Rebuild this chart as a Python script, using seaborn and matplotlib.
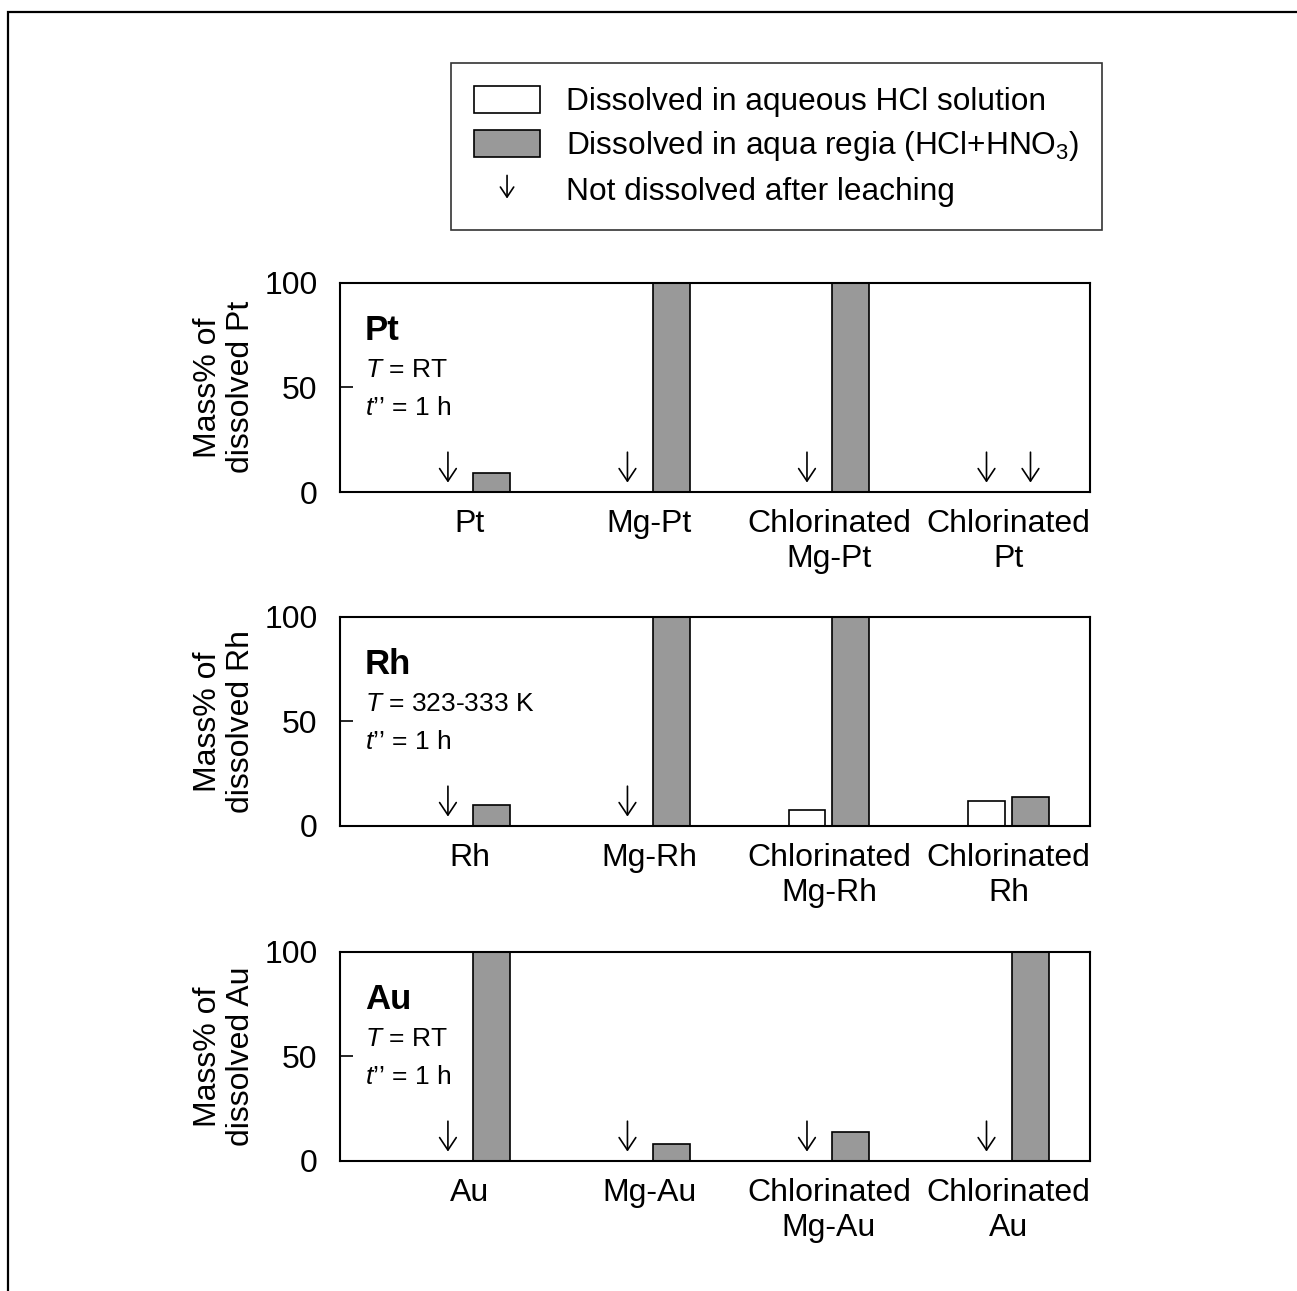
import numpy as np
import pandas as pd
import seaborn as sns
import matplotlib.pyplot as plt
from matplotlib.patches import Patch, Rectangle, FancyArrowPatch
from matplotlib.legend_handler import HandlerBase


sns.set_style('ticks', rc={'text.color': 'black', 'axes.labelcolor': 'black',
                           'xtick.color': 'black', 'ytick.color': 'black',
                           'axes.edgecolor': 'black'})
plt.rcParams['font.family'] = ['Liberation Sans', 'DejaVu Sans']
plt.rcParams['mathtext.fontset'] = 'custom'
plt.rcParams['mathtext.rm'] = 'Liberation Sans'
plt.rcParams['mathtext.it'] = 'Liberation Sans:italic'
plt.rcParams['mathtext.bf'] = 'Liberation Sans:bold'


# Data (mass% dissolved)
metals = ['Pt', 'Rh', 'Au']
conditions = ['$T$ = RT', '$T$ = 323-333 K', '$T$ = RT']
samples = {
    'Pt': ['Pt', 'Mg-Pt', 'Chlorinated\nMg-Pt', 'Chlorinated\nPt'],
    'Rh': ['Rh', 'Mg-Rh', 'Chlorinated\nMg-Rh', 'Chlorinated\nRh'],
    'Au': ['Au', 'Mg-Au', 'Chlorinated\nMg-Au', 'Chlorinated\nAu'],
}
hcl_vals = {
    'Pt': [0, 0, 0, 0],
    'Rh': [0, 0, 7.5, 12],
    'Au': [0, 0, 0, 0],
}
regia_vals = {
    'Pt': [9, 100, 100, 0],
    'Rh': [10, 100, 100, 14],
    'Au': [100, 8, 14, 100],
}
# 1 = not dissolved after leaching (arrow)
hcl_arrow = {
    'Pt': [1, 1, 1, 1],
    'Rh': [1, 1, 0, 0],
    'Au': [1, 1, 1, 1],
}
regia_arrow = {
    'Pt': [0, 0, 0, 1],
    'Rh': [0, 0, 0, 0],
    'Au': [0, 0, 0, 0],
}

hue_names = ['Dissolved in aqueous HCl solution',
             'Dissolved in aqua regia (HCl+HNO$_3$)']
colors = {hue_names[0]: 'white', hue_names[1]: '#999999'}


class ArrowHandler(HandlerBase):
    def create_artists(self, legend, orig_handle, xdescent, ydescent,
                       width, height, fontsize, trans):
        xc = width / 2 - xdescent
        a = FancyArrowPatch((xc, height * 1.0), (xc, -height * 0.05),
                            arrowstyle='->,head_length=0.45,head_width=0.3',
                            mutation_scale=16, lw=1.2, color='black',
                            transform=trans)
        return [a]


fig = plt.figure(figsize=(12.97, 12.91), dpi=100)

# outer frame
fig.patches.append(Rectangle((8 / 1297, -0.5), 2, 0.5 + 1 - 12 / 1291,
                             transform=fig.transFigure, fill=False,
                             lw=1.6, edgecolor='black', clip_on=False))

bottoms = [0.6189, 0.3602, 0.1007]
for metal, cond, bot in zip(metals, conditions, bottoms):
    ax = fig.add_axes([0.2621, bot, 0.5783, 0.1622])
    df = pd.DataFrame({
        'sample': samples[metal] * 2,
        'solvent': [hue_names[0]] * 4 + [hue_names[1]] * 4,
        'value': hcl_vals[metal] + regia_vals[metal],
    })
    sns.barplot(data=df, x='sample', y='value', hue='solvent',
                order=samples[metal], hue_order=hue_names, palette=colors,
                edgecolor='black', linewidth=1.2, width=0.49, gap=0.16,
                errorbar=None, legend=False, ax=ax)

    # arrows for not dissolved
    for i in range(4):
        for off, flags in [(-0.1225, hcl_arrow), (0.1225, regia_arrow)]:
            if flags[metal][i]:
                ax.annotate('', xy=(i + off, 4.5), xytext=(i + off, 19),
                            arrowprops=dict(arrowstyle='->,head_length=0.45,head_width=0.3',
                                            mutation_scale=20, lw=1.2,
                                            color='black', shrinkA=0, shrinkB=0))

    ax.set_xlim(-0.724, 3.454)
    ax.set_ylim(0, 100)
    ax.set_yticks([0, 50, 100])
    ax.tick_params(axis='y', direction='in', length=9, width=1.2,
                   labelsize=23, pad=16)
    ax.tick_params(axis='x', length=0, labelsize=23, pad=12)
    for lab in ax.get_xticklabels():
        lab.set_linespacing(1.25)
    ax.set_xlabel('')
    ax.set_ylabel('Mass% of\ndissolved ' + metal, fontsize=23, labelpad=6,
                  linespacing=1.15)
    for s in ax.spines.values():
        s.set_linewidth(1.5)
        s.set_color('black')

    ax.text(0.033, 0.77, metal, transform=ax.transAxes, fontsize=25,
            fontweight='bold', va='center', ha='left')
    ax.text(0.033, 0.584, cond, transform=ax.transAxes, fontsize=19,
            va='center', ha='left')
    ax.text(0.033, 0.402, '$t$\u2019\u2019 = 1 h', transform=ax.transAxes,
            fontsize=19, va='center', ha='left')

handles = [Patch(facecolor='white', edgecolor='black', lw=1.2),
           Patch(facecolor='#999999', edgecolor='black', lw=1.2),
           'arrow']
labels = [hue_names[0], hue_names[1], 'Not dissolved after leaching']
leg = fig.legend(handles, labels, loc='upper left',
                 bbox_to_anchor=(451 / 1297, 1 - 63 / 1291),
                 borderaxespad=0, fontsize=22.8, frameon=True, fancybox=False,
                 handlelength=2.1, handleheight=0.95, handletextpad=0.8,
                 borderpad=0.72, labelspacing=0.38,
                 handler_map={str: ArrowHandler()})
leg.get_frame().set_edgecolor('black')
leg.get_frame().set_linewidth(1.2)

fig.savefig('out.png', dpi=100)
